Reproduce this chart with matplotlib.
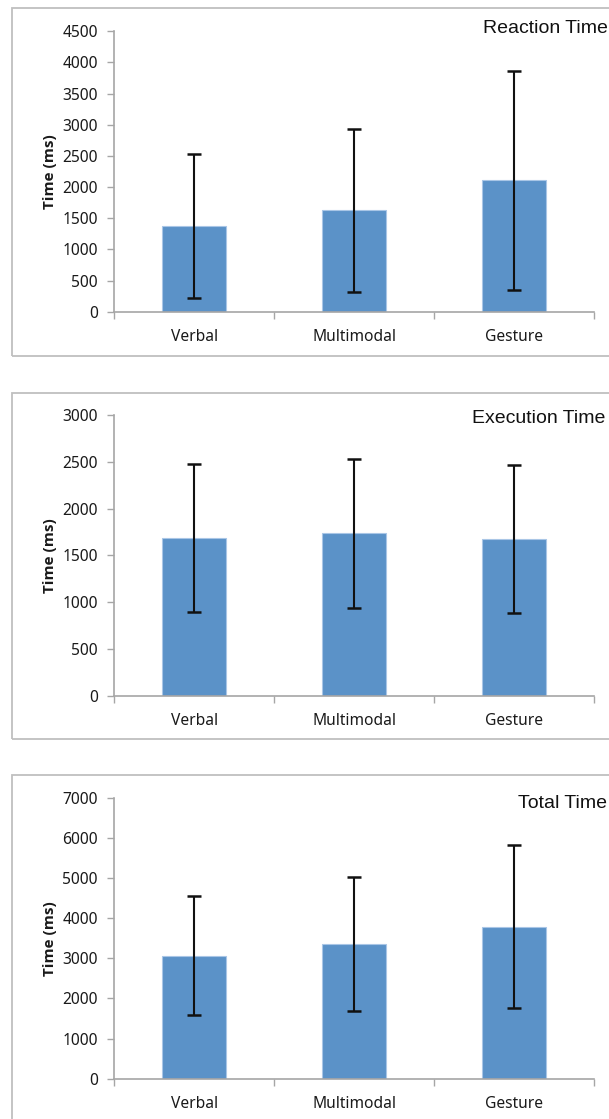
import numpy as np
import matplotlib.pyplot as plt
from matplotlib.patches import Rectangle

# данные
categories = ['Verbal', 'Multimodal', 'Gesture']
reaction_mean = [1377, 1626, 2110]
reaction_err = [1155, 1310, 1757]
execution_mean = [1685, 1734, 1675]
execution_err = [791, 793, 786]
total_mean = [3058, 3355, 3790]
total_err = [1483, 1661, 2040]

titles = ['Reaction Time', 'Execution Time', 'Total Time']
y_max = [4500, 3000, 7000]
y_step = [500, 500, 1000]

W, H = 609, 1119
bar_color = '#5b92c8'
axis_gray = '#a6a6a6'
tick_font = 'Noto Sans'


def fx(px):
    return px / W


def fy(py):
    return 1 - py / H


fig = plt.figure(figsize=(W / 100, H / 100), dpi=100)
fig.patch.set_facecolor('white')

# рамки вокруг каждой диаграммы (справа/снизу обрезаны)
boxes = [(8, 356), (393, 739), (775, 1140)]
for top, bottom in boxes:
    fig.patches.append(Rectangle((fx(11.5), fy(bottom)), fx(640), (bottom - top) / H,
                                 transform=fig.transFigure, fill=False,
                                 edgecolor='#bfbfbf', linewidth=1.3))

# положения осей в пикселях: (верх, ноль)
axes_px = [(31.2, 311.8), (415.0, 695.7), (797.7, 1078.7)]
title_px = [(483, 33.3), (472, 423.0), (518, 808.0)]
means = [reaction_mean, execution_mean, total_mean]
errs = [reaction_err, execution_err, total_err]

x = np.arange(len(categories))
for i in range(3):
    top, zero = axes_px[i]
    ax = fig.add_axes([fx(114.3), fy(zero), fx(480), (zero - top) / H])
    ax.bar(x, means[i], width=0.4, color=bar_color, edgecolor='#a9c6e6', linewidth=0.8, zorder=2)
    ax.errorbar(x, means[i], yerr=errs[i], fmt='none', ecolor='#111111',
                elinewidth=1.5, capsize=5, capthick=1.8, zorder=3)
    ax.set_xlim(-0.5, 2.5)
    ax.set_ylim(0, y_max[i])
    ax.set_yticks(np.arange(0, y_max[i] + 1, y_step[i]))
    ax.set_xticks(x)
    ax.set_xticklabels(categories)
    ax.set_xticks([-0.5, 0.5, 1.5, 2.5], minor=True)
    ax.tick_params(axis='x', which='major', length=0, pad=12.5, labelsize=11.2, labelcolor='#1a1a1a')
    ax.tick_params(axis='x', which='minor', length=5, width=1, color=axis_gray, direction='out')
    ax.tick_params(axis='y', length=5, width=1, color=axis_gray, pad=7, labelsize=11.2, labelcolor='#1a1a1a')
    for lab in ax.get_xticklabels() + ax.get_yticklabels():
        lab.set_fontfamily(tick_font)
    for s in ['top', 'right']:
        ax.spines[s].set_visible(False)
    for s in ['left', 'bottom']:
        ax.spines[s].set_color(axis_gray)
        ax.spines[s].set_linewidth(1.2)
    ax.set_facecolor('none')

    fig.text(fx(50), fy((top + zero) / 2), 'Time (ms)', rotation=90, ha='center', va='center',
             fontsize=11, fontweight='bold', fontfamily=['Open Sans', 'DejaVu Sans'], color='#1a1a1a')
    tx, ty = title_px[i]
    fig.text(fx(tx), fy(ty), titles[i], ha='left', va='baseline',
             fontsize=14, fontfamily='Liberation Sans', color='#111111')

fig.savefig('out.png', dpi=100)
